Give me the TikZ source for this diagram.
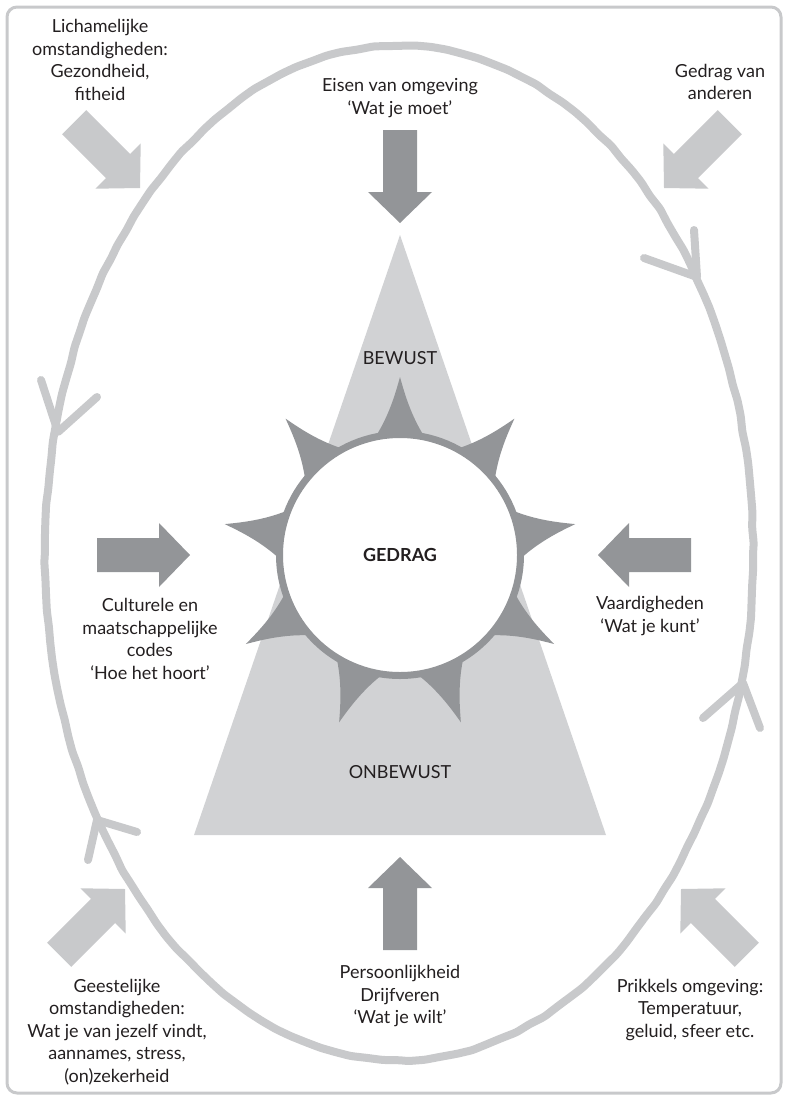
\documentclass[tikz,border=0pt]{standalone}
\usepackage{fontspec}
\setmainfont{Lato}
\usetikzlibrary{decorations.pathmorphing}

\definecolor{loopgray}{HTML}{C8C9CB}
\definecolor{trigray}{HTML}{D1D2D4}
\definecolor{arrdark}{HTML}{939598}
\definecolor{txtdark}{HTML}{231F20}

\begin{document}
\pgfmathsetseed{7}
\begin{tikzpicture}[x=1pt, y=-1pt,
		rough/.style={
			decorate,
			decoration={random steps, segment length=16pt, amplitude=0.7pt},
			rounded corners=3pt
		},
		cyclepath/.style={draw=loopgray, line width=8pt},
		chevron/.style={draw=loopgray, line width=8pt, line cap=round, line join=round},
		darkarr/.style={fill=arrdark},
		lightarr/.style={fill=loopgray},
		txt/.style={text=txtdark, align=center, font=\fontsize{18}{22.5}\selectfont},
		blockarr/.pic={
			\path[pic actions] (0,0) -- (-31,-32) -- (-31,-17) -- (-93,-17)
				-- (-93,17) -- (-31,17) -- (-31,32) -- cycle;
		},
		spike/.pic={
			\path[pic actions] (110,-30) .. controls (135,-12) and (160,-5) .. (178,0)
				.. controls (160,5) and (135,12) .. (110,30) -- cycle;
		}
		]
		\useasboundingbox (0,0) rectangle (788,1100);
		
		% Frame and loop
		\draw[draw=loopgray, line width=3pt, rounded corners=10pt] (7,7) rectangle (781,1093);
		\draw[cyclepath, rough] (399,553) ellipse [x radius=354, y radius=507];
		\draw[chevron] (694,230) -- (697,277) -- (644,258);
		\draw[chevron] (703,718) -- (743,683) -- (760,728);
		\draw[chevron] (41,380) -- (58,432) -- (97,397);
		\draw[chevron] (88,860) -- (97,820) -- (137,832);
		
		% Triangle
		\fill[trigray] (400,235) -- (606,835) -- (194,835) -- cycle;
		\node[txt] (bewust) at (400,358) {BEWUST};
		\node[txt] (onbewust) at (400,772) {ONBEWUST};
		
		% Core with spikes
		\foreach \a in {90,50,...,-230}
			\pic[rotate=\a, darkarr] at (400,555) {spike};
		\node[circle, draw=arrdark, line width=7pt, fill=white, minimum size=241pt,
			inner sep=0pt, txt, font=\fontsize{18}{22.5}\selectfont\bfseries] (gedrag) at (400,555) {GEDRAG};
		
		% Inner arrows
		\pic[rotate=-90, darkarr] at (400,223) {blockarr};
		\pic[rotate=0, darkarr] at (190,555) {blockarr};
		\pic[rotate=180, darkarr] at (598,555) {blockarr};
		\pic[rotate=90, darkarr] at (400,857) {blockarr};
		
		% Outer arrows
		\pic[rotate=-45, lightarr] at (140,188) {blockarr};
		\pic[rotate=-135, lightarr] at (664,188) {blockarr};
		\pic[rotate=45, lightarr] at (125,889) {blockarr};
		\pic[rotate=135, lightarr] at (681,889) {blockarr};
		
		% Labels
		\node[txt] (eisen) at (400,98) {Eisen van omgeving\\‘Wat je moet’};
		\node[txt] (cultuur) at (150,639) {Culturele en\\maatschappelijke\\codes\\‘Hoe het hoort’};
		\node[txt] (vaardig) at (650,616) {Vaardigheden\\‘Wat je kunt’};
		\node[txt] (persoon) at (400,996) {Persoonlijkheid\\Drijfveren\\‘Wat je wilt’};
		\node[txt] (lichaam) at (100,60) {Lichamelijke\\omstandigheden:\\Gezondheid,\\fitheid};
		\node[txt] (anderen) at (720,82) {Gedrag van\\anderen};
		\node[txt] (geest) at (117,1032) {Geestelijke\\omstandigheden:\\Wat je van jezelf vindt,\\aannames, stress,\\(on)zekerheid};
		\node[txt] (prikkels) at (690,1010) {Prikkels omgeving:\\Temperatuur,\\geluid, sfeer etc.};
		
	\end{tikzpicture}
\end{document}
